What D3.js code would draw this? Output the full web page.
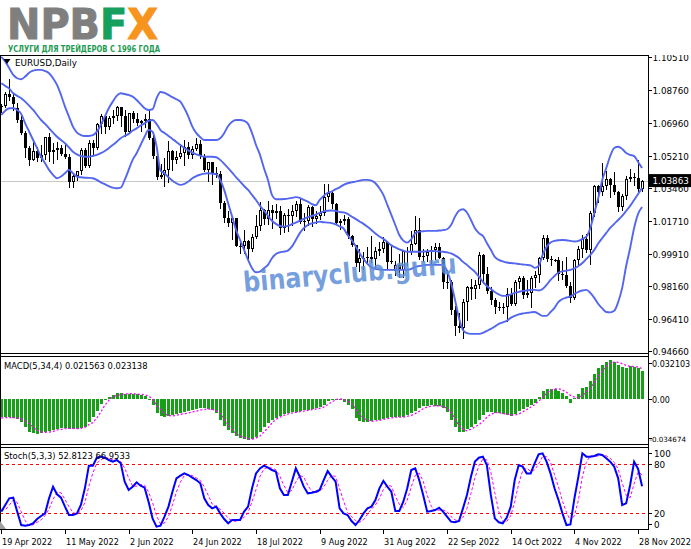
<!DOCTYPE html>
<html><head><meta charset="utf-8">
<script src="https://cdn.jsdelivr.net/npm/d3@7"></script>
<style>body{margin:0;background:#fff;} svg{display:block;} text{font-family:"DejaVu Sans",sans-serif;}</style>
</head><body>
<svg id="c" width="691" height="549"></svg>
<script>
// ---------- DATA ----------
const tickIndex = [0,16,32,48,64,80,96,112,128,144,160];
const tickLabels = ["19 Apr 2022","11 May 2022","2 Jun 2022","24 Jun 2022","18 Jul 2022","9 Aug 2022","31 Aug 2022","22 Sep 2022","14 Oct 2022","4 Nov 2022","28 Nov 2022"];
const priceTicks = [1.10510,1.08760,1.06960,1.05210,1.03460,1.01710,0.99910,0.98160,0.96410,0.94660];
const lastPrice = 1.03863;
const macdRange = [-0.034674, 0.032103];
const stochLevels = [80, 20];
const stochAxis = [100, 80, 20, 0];

const open = [1.0781,1.0787,1.0854,1.0837,1.0780,1.0713,1.0643,1.0561,1.0499,1.0545,1.0508,1.0524,1.0621,1.0540,1.0551,1.0561,1.0530,1.0512,1.0380,1.0410,1.0436,1.0552,1.0464,1.0587,1.0562,1.0692,1.0733,1.0676,1.0725,1.0734,1.0781,1.0733,1.0646,1.0750,1.0719,1.0696,1.0706,1.0716,1.0616,1.0518,1.0408,1.0418,1.0445,1.0544,1.0496,1.0513,1.0534,1.0567,1.0523,1.0554,1.0583,1.0518,1.0442,1.0484,1.0426,1.0423,1.0266,1.0182,1.0160,1.0185,1.0036,1.0036,1.0063,1.0019,1.0080,1.0143,1.0226,1.0180,1.0229,1.0211,1.0221,1.0133,1.0199,1.0197,1.0220,1.0260,1.0163,1.0167,1.0245,1.0180,1.0196,1.0211,1.0298,1.0322,1.0259,1.0160,1.0170,1.0178,1.0085,1.0038,0.9944,0.9967,0.9970,0.9972,0.9964,1.0005,1.0015,1.0054,0.9945,0.9900,0.9929,0.9903,1.0009,1.0000,1.0043,1.0120,0.9972,0.9978,0.9999,1.0014,1.0027,0.9971,0.9839,0.9838,0.9690,0.9605,0.9590,0.9734,0.9815,0.9801,0.9823,0.9985,0.9885,0.9792,0.9741,0.9703,0.9705,0.9705,0.9777,0.9723,0.9838,0.9859,0.9772,0.9782,0.9862,0.9875,0.9967,1.0078,0.9964,0.9960,0.9958,0.9882,0.9876,0.9820,0.9751,0.9959,1.0019,1.0074,1.0014,1.0210,1.0356,1.0324,1.0359,1.0393,1.0363,1.0325,1.0243,1.0301,1.0397,1.0408,1.0398,1.0339];
const high = [1.0800,1.0866,1.0936,1.0851,1.0803,1.0737,1.0654,1.0571,1.0593,1.0565,1.0580,1.0623,1.0642,1.0590,1.0593,1.0577,1.0578,1.0531,1.0418,1.0440,1.0562,1.0564,1.0605,1.0606,1.0697,1.0748,1.0737,1.0736,1.0765,1.0787,1.0785,1.0765,1.0752,1.0764,1.0749,1.0712,1.0748,1.0774,1.0636,1.0520,1.0474,1.0506,1.0601,1.0550,1.0545,1.0583,1.0606,1.0595,1.0573,1.0615,1.0606,1.0528,1.0487,1.0487,1.0462,1.0437,1.0275,1.0221,1.0188,1.0187,1.0049,1.0122,1.0068,1.0096,1.0201,1.0269,1.0235,1.0278,1.0256,1.0258,1.0249,1.0213,1.0235,1.0254,1.0274,1.0294,1.0209,1.0254,1.0250,1.0223,1.0248,1.0368,1.0369,1.0329,1.0268,1.0181,1.0202,1.0191,1.0095,1.0040,1.0016,0.9999,1.0030,1.0090,1.0029,1.0054,1.0080,1.0058,1.0034,0.9955,0.9990,1.0012,1.0030,1.0113,1.0198,1.0187,1.0020,1.0017,1.0036,1.0051,1.0051,0.9976,0.9906,0.9852,0.9709,0.9671,0.9750,0.9816,0.9854,0.9852,0.9999,0.9990,0.9920,0.9811,0.9756,0.9730,0.9726,0.9809,0.9806,0.9849,0.9873,0.9870,0.9848,0.9873,0.9898,0.9975,1.0094,1.0093,0.9978,0.9966,0.9975,0.9952,0.9976,0.9841,0.9964,1.0033,1.0094,1.0096,1.0223,1.0364,1.0364,1.0481,1.0440,1.0400,1.0433,1.0330,1.0314,1.0411,1.0448,1.0428,1.0497,1.0392];
const low = [1.0758,1.0784,1.0823,1.0767,1.0700,1.0637,1.0515,1.0472,1.0496,1.0491,1.0493,1.0505,1.0493,1.0483,1.0503,1.0525,1.0508,1.0354,1.0350,1.0389,1.0423,1.0459,1.0461,1.0532,1.0557,1.0642,1.0642,1.0663,1.0698,1.0714,1.0678,1.0627,1.0641,1.0704,1.0685,1.0653,1.0673,1.0612,1.0506,1.0397,1.0398,1.0358,1.0381,1.0445,1.0480,1.0509,1.0470,1.0508,1.0510,1.0552,1.0508,1.0437,1.0382,1.0366,1.0405,1.0236,1.0162,1.0144,1.0072,1.0032,0.9998,0.9998,0.9952,1.0006,1.0076,1.0121,1.0153,1.0153,1.0130,1.0183,1.0099,1.0109,1.0113,1.0145,1.0196,1.0159,1.0122,1.0146,1.0141,1.0160,1.0177,1.0202,1.0275,1.0237,1.0150,1.0123,1.0152,1.0076,1.0033,0.9927,0.9901,0.9912,0.9946,0.9947,0.9914,0.9985,0.9999,0.9911,0.9943,0.9877,0.9864,0.9864,0.9930,0.9990,1.0043,0.9966,0.9955,0.9955,0.9944,0.9966,0.9969,0.9808,0.9808,0.9668,0.9553,0.9570,0.9536,0.9635,0.9749,0.9753,0.9807,0.9835,0.9780,0.9720,0.9670,0.9686,0.9670,0.9632,0.9713,0.9714,0.9806,0.9755,0.9757,0.9705,0.9810,0.9841,0.9961,0.9951,0.9932,0.9952,0.9851,0.9854,0.9813,0.9730,0.9746,0.9935,0.9977,1.0000,0.9935,1.0194,1.0270,1.0306,1.0340,1.0300,1.0313,1.0223,1.0227,1.0286,1.0383,1.0361,1.0330,1.0330];
const close = [1.0787,1.0854,1.0837,1.0797,1.0713,1.0643,1.0561,1.0499,1.0545,1.0508,1.0524,1.0621,1.0540,1.0551,1.0561,1.0530,1.0512,1.0380,1.0410,1.0436,1.0552,1.0464,1.0587,1.0562,1.0692,1.0733,1.0676,1.0725,1.0734,1.0781,1.0733,1.0646,1.0750,1.0719,1.0696,1.0706,1.0716,1.0616,1.0518,1.0408,1.0418,1.0445,1.0544,1.0496,1.0513,1.0534,1.0567,1.0523,1.0554,1.0583,1.0518,1.0442,1.0484,1.0426,1.0423,1.0266,1.0182,1.0160,1.0185,1.0036,1.0036,1.0063,1.0019,1.0080,1.0143,1.0226,1.0180,1.0229,1.0211,1.0221,1.0133,1.0199,1.0197,1.0220,1.0260,1.0163,1.0167,1.0245,1.0180,1.0196,1.0211,1.0298,1.0322,1.0259,1.0160,1.0170,1.0178,1.0085,1.0038,0.9944,0.9967,0.9970,0.9972,0.9964,1.0005,1.0015,1.0054,0.9945,0.9954,0.9929,0.9903,1.0009,1.0000,1.0043,1.0120,0.9972,0.9978,0.9999,1.0014,1.0027,0.9971,0.9839,0.9838,0.9690,0.9605,0.9590,0.9734,0.9815,0.9801,0.9823,0.9985,0.9885,0.9792,0.9741,0.9703,0.9705,0.9705,0.9777,0.9723,0.9838,0.9859,0.9772,0.9782,0.9862,0.9875,0.9967,1.0078,0.9964,0.9964,0.9958,0.9882,0.9876,0.9820,0.9751,0.9959,1.0019,1.0074,1.0014,1.0210,1.0356,1.0324,1.0359,1.0393,1.0363,1.0325,1.0243,1.0301,1.0397,1.0408,1.0398,1.0339,1.03863];

const bbUpper = [1.1054,1.1027,1.0992,1.0956,1.0938,1.0933,1.0947,1.0968,1.0979,1.0983,1.0983,1.0977,1.0965,1.0938,1.0902,1.0848,1.0785,1.0731,1.0677,1.0645,1.0632,1.0627,1.0627,1.0631,1.0650,1.0686,1.0731,1.0776,1.0812,1.0843,1.0857,1.0853,1.0848,1.0839,1.0821,1.0799,1.0776,1.0767,1.0771,1.0830,1.0864,1.0859,1.0848,1.0836,1.0825,1.0812,1.0776,1.0731,1.0677,1.0642,1.0620,1.0605,1.0605,1.0605,1.0605,1.0615,1.0642,1.0681,1.0704,1.0713,1.0713,1.0708,1.0692,1.0642,1.0578,1.0525,1.0453,1.0390,1.0309,1.0286,1.0286,1.0287,1.0289,1.0293,1.0297,1.0293,1.0282,1.0273,1.0260,1.0253,1.0282,1.0304,1.0320,1.0327,1.0340,1.0350,1.0363,1.0372,1.0377,1.0381,1.0386,1.0390,1.0390,1.0386,1.0372,1.0345,1.0309,1.0255,1.0201,1.0147,1.0093,1.0063,1.0052,1.0070,1.0103,1.0111,1.0113,1.0115,1.0115,1.0115,1.0117,1.0119,1.0124,1.0147,1.0192,1.0224,1.0232,1.0214,1.0174,1.0130,1.0103,1.0088,1.0050,1.0013,0.9975,0.9959,0.9951,0.9945,0.9942,0.9940,0.9937,0.9934,0.9932,0.9929,0.9916,0.9926,0.9986,1.0029,1.0053,1.0061,1.0065,1.0066,1.0065,1.0061,1.0058,1.0061,1.0072,1.0084,1.0131,1.0212,1.0293,1.0390,1.0454,1.0519,1.0562,1.0569,1.0557,1.0535,1.0525,1.0518,1.0487,1.0454];
const bbMiddle = [1.0911,1.0896,1.0882,1.0857,1.0843,1.0830,1.0812,1.0790,1.0767,1.0740,1.0713,1.0692,1.0668,1.0645,1.0623,1.0605,1.0588,1.0566,1.0542,1.0528,1.0519,1.0515,1.0515,1.0519,1.0525,1.0534,1.0546,1.0561,1.0578,1.0596,1.0615,1.0627,1.0638,1.0656,1.0668,1.0683,1.0695,1.0709,1.0713,1.0692,1.0659,1.0643,1.0627,1.0611,1.0595,1.0578,1.0562,1.0549,1.0537,1.0528,1.0521,1.0515,1.0515,1.0515,1.0512,1.0498,1.0476,1.0453,1.0429,1.0404,1.0381,1.0357,1.0336,1.0309,1.0282,1.0250,1.0224,1.0196,1.0170,1.0153,1.0142,1.0138,1.0142,1.0151,1.0160,1.0170,1.0180,1.0189,1.0196,1.0203,1.0212,1.0220,1.0224,1.0225,1.0223,1.0217,1.0215,1.0207,1.0193,1.0180,1.0166,1.0153,1.0137,1.0120,1.0101,1.0085,1.0072,1.0056,1.0037,1.0026,1.0015,1.0009,1.0003,1.0003,1.0003,1.0003,1.0004,1.0005,1.0007,1.0006,1.0004,1.0003,0.9999,0.9994,0.9983,0.9969,0.9948,0.9932,0.9913,0.9894,0.9869,0.9840,0.9818,0.9802,0.9786,0.9773,0.9765,0.9765,0.9773,0.9781,0.9786,0.9792,0.9794,0.9797,0.9797,0.9794,0.9802,0.9824,0.9851,0.9872,0.9891,0.9897,0.9901,0.9905,0.9913,0.9926,0.9942,0.9964,0.9986,1.0013,1.0048,1.0077,1.0104,1.0131,1.0153,1.0174,1.0196,1.0223,1.0250,1.0282,1.0314,1.0347];
const bbLower = [1.0740,1.0763,1.0776,1.0776,1.0767,1.0746,1.0695,1.0650,1.0605,1.0561,1.0515,1.0480,1.0444,1.0417,1.0399,1.0408,1.0426,1.0444,1.0426,1.0408,1.0404,1.0402,1.0401,1.0399,1.0390,1.0377,1.0367,1.0357,1.0348,1.0345,1.0348,1.0390,1.0444,1.0498,1.0534,1.0578,1.0623,1.0659,1.0650,1.0573,1.0440,1.0426,1.0404,1.0386,1.0372,1.0363,1.0368,1.0381,1.0399,1.0411,1.0418,1.0424,1.0426,1.0424,1.0421,1.0390,1.0336,1.0264,1.0192,1.0120,1.0066,1.0013,0.9959,0.9914,0.9892,0.9896,0.9914,0.9932,0.9968,0.9991,1.0000,1.0003,1.0009,1.0030,1.0066,1.0103,1.0130,1.0147,1.0156,1.0160,1.0165,1.0162,1.0160,1.0157,1.0150,1.0139,1.0128,1.0093,1.0066,1.0034,0.9996,0.9964,0.9937,0.9918,0.9910,0.9907,0.9905,0.9905,0.9905,0.9905,0.9905,0.9905,0.9905,0.9910,0.9921,0.9926,0.9929,0.9932,0.9932,0.9932,0.9932,0.9932,0.9899,0.9835,0.9743,0.9646,0.9581,0.9564,0.9560,0.9560,0.9560,0.9565,0.9576,0.9587,0.9600,0.9614,0.9622,0.9630,0.9646,0.9657,0.9665,0.9670,0.9673,0.9676,0.9678,0.9668,0.9657,0.9657,0.9678,0.9700,0.9732,0.9748,0.9756,0.9762,0.9775,0.9786,0.9794,0.9797,0.9781,0.9754,0.9721,0.9697,0.9678,0.9676,0.9684,0.9732,0.9808,0.9926,1.0023,1.0131,1.0207,1.0244];

const macdHist = [-0.0140,-0.0140,-0.0142,-0.0147,-0.0152,-0.0178,-0.0217,-0.0255,-0.0265,-0.0268,-0.0262,-0.0255,-0.0250,-0.0239,-0.0229,-0.0227,-0.0224,-0.0229,-0.0234,-0.0232,-0.0227,-0.0214,-0.0178,-0.0140,-0.0096,-0.0037,-0.0004,0.0014,0.0032,0.0047,0.0045,0.0039,0.0037,0.0034,0.0034,0.0032,0.0021,0.0001,-0.0050,-0.0106,-0.0132,-0.0140,-0.0132,-0.0122,-0.0114,-0.0109,-0.0104,-0.0096,-0.0086,-0.0078,-0.0073,-0.0071,-0.0076,-0.0089,-0.0109,-0.0165,-0.0209,-0.0242,-0.0265,-0.0285,-0.0298,-0.0309,-0.0319,-0.0311,-0.0293,-0.0255,-0.0216,-0.0186,-0.0165,-0.0145,-0.0132,-0.0119,-0.0112,-0.0104,-0.0099,-0.0094,-0.0089,-0.0083,-0.0078,-0.0071,-0.0063,-0.0045,-0.0019,0.0001,0.0001,-0.0007,-0.0025,-0.0045,-0.0076,-0.0147,-0.0168,-0.0175,-0.0178,-0.0173,-0.0165,-0.0160,-0.0152,-0.0145,-0.0142,-0.0140,-0.0140,-0.0137,-0.0127,-0.0112,-0.0091,-0.0071,-0.0058,-0.0053,-0.0050,-0.0053,-0.0055,-0.0068,-0.0101,-0.0165,-0.0216,-0.0255,-0.0255,-0.0229,-0.0219,-0.0191,-0.0160,-0.0122,-0.0101,-0.0101,-0.0106,-0.0112,-0.0119,-0.0127,-0.0132,-0.0119,-0.0096,-0.0076,-0.0063,-0.0050,-0.0030,0.0014,0.0057,0.0078,0.0078,0.0078,0.0062,0.0042,0.0021,-0.0030,0.0006,0.0039,0.0083,0.0091,0.0134,0.0193,0.0236,0.0257,0.0282,0.0295,0.0282,0.0257,0.0241,0.0239,0.0249,0.0241,0.0236,0.021563];
const macdSignal = [-0.0147,-0.0145,-0.0145,-0.0145,-0.0147,-0.0152,-0.0168,-0.0191,-0.0216,-0.0242,-0.0255,-0.0257,-0.0255,-0.0250,-0.0239,-0.0234,-0.0229,-0.0227,-0.0227,-0.0229,-0.0227,-0.0219,-0.0198,-0.0183,-0.0147,-0.0101,-0.0050,-0.0012,0.0014,0.0027,0.0032,0.0037,0.0039,0.0039,0.0037,0.0034,0.0032,0.0021,0.0001,-0.0050,-0.0081,-0.0114,-0.0127,-0.0132,-0.0127,-0.0119,-0.0114,-0.0109,-0.0101,-0.0094,-0.0086,-0.0081,-0.0078,-0.0081,-0.0089,-0.0114,-0.0152,-0.0199,-0.0234,-0.0268,-0.0285,-0.0298,-0.0306,-0.0311,-0.0301,-0.0285,-0.0255,-0.0224,-0.0186,-0.0158,-0.0140,-0.0127,-0.0117,-0.0109,-0.0104,-0.0099,-0.0094,-0.0089,-0.0083,-0.0078,-0.0073,-0.0063,-0.0045,-0.0025,-0.0009,0.0001,-0.0004,-0.0019,-0.0037,-0.0071,-0.0114,-0.0147,-0.0165,-0.0173,-0.0170,-0.0165,-0.0158,-0.0152,-0.0147,-0.0142,-0.0140,-0.0140,-0.0135,-0.0127,-0.0114,-0.0096,-0.0076,-0.0063,-0.0055,-0.0053,-0.0053,-0.0058,-0.0071,-0.0101,-0.0152,-0.0204,-0.0234,-0.0245,-0.0234,-0.0216,-0.0199,-0.0173,-0.0142,-0.0119,-0.0106,-0.0106,-0.0112,-0.0117,-0.0122,-0.0124,-0.0117,-0.0101,-0.0083,-0.0065,-0.0045,-0.0019,0.0009,0.0042,0.0065,0.0075,0.0078,0.0068,0.0050,0.0027,0.0014,0.0006,0.0027,0.0052,0.0083,0.0124,0.0167,0.0213,0.0249,0.0275,0.0282,0.0280,0.0270,0.0257,0.0249,0.0247,0.0244,0.023138];

const stochMain = [22.0,30.1,38.2,39.0,22.0,5.7,4.9,5.7,7.8,13.0,16.7,19.9,38.2,52.4,43.1,39.0,28.1,17.9,17.9,19.9,30.1,50.4,78.0,78.0,87.7,89.0,87.7,84.9,82.9,84.9,80.9,58.5,48.4,52.4,57.7,53.6,51.2,34.1,13.8,3.7,4.9,15.9,28.1,46.3,62.6,65.8,68.6,66.6,63.4,60.5,56.5,38.2,30.1,26.0,28.1,19.9,13.0,7.8,11.8,11.8,11.8,22.0,28.1,50.4,68.6,74.7,78.0,75.6,72.7,70.7,50.4,42.3,42.3,58.5,74.7,64.6,52.4,44.3,45.1,46.3,48.4,60.5,71.5,64.6,58.5,26.0,19.9,17.9,10.6,5.7,11.8,19.9,26.0,28.1,36.2,50.4,59.3,52.4,46.3,22.8,22.8,34.1,50.4,72.7,74.7,60.5,42.3,22.0,22.8,24.0,26.8,22.0,15.9,9.8,9.0,10.6,26.0,42.3,64.6,82.9,87.7,89.0,78.8,42.3,13.8,9.0,7.8,14.7,28.1,60.5,78.8,76.8,68.6,68.6,80.9,91.8,93.0,82.9,68.6,50.4,36.2,19.9,5.7,6.5,38.2,64.6,93.0,89.0,89.0,89.8,91.8,91.0,86.9,82.9,76.8,62.6,30.1,32.1,54.5,82.9,74.0,52.8123];
const stochSignal = [25,24,30,36,33,22,11,5,6,9,12,17,25,37,45,45,37,28,21,19,23,33,53,69,81,85,88,87,85,84,83,75,63,53,53,55,54,46,33,17,7,8,16,30,46,58,66,67,66,63,60,52,42,31,28,25,20,14,11,10,12,15,21,34,49,65,74,76,75,73,65,54,45,48,58,66,64,54,47,45,47,52,60,66,65,50,35,21,16,11,9,12,19,25,30,38,49,54,53,41,31,27,36,52,66,69,59,42,29,23,24,24,22,16,12,10,15,26,44,63,78,86,85,70,45,22,10,10,17,34,56,72,75,71,73,80,89,89,82,67,52,35,21,11,17,36,65,82,90,89,90,91,90,87,82,74,57,42,39,56,70,66.9533];

// ---------- LAYOUT ----------
const svg = d3.select("#c");
const N = close.length;
const axisX = 648;
const mainTop = 55, mainBot = 353;
const macdTop = 357, macdBot = 444;
const stTop = 447.6, stBot = 529.7;

const x = d3.scaleLinear().domain([0, N-1]).range([1.3, 1.3 + 3.98*(N-1)]);
const yP = d3.scaleLinear().domain([0.94660, 1.10510]).range([351.3, 57.3]);
const yM = d3.scaleLinear().domain(macdRange).range([macdBot, macdTop]);
const yS = d3.scaleLinear().domain([0, 100]).range([stBot, stTop]);

const defs = svg.append("defs");
defs.append("clipPath").attr("id","cm").append("rect").attr("x",0).attr("y",mainTop).attr("width",axisX).attr("height",mainBot-mainTop);
defs.append("clipPath").attr("id","cs").append("rect").attr("x",0).attr("y",446).attr("width",axisX).attr("height",84);

// current price line
svg.append("line").attr("x1",0).attr("x2",axisX).attr("y1",Math.round(yP(lastPrice))+0.5).attr("y2",Math.round(yP(lastPrice))+0.5)
  .attr("stroke","#c8c8c8").attr("stroke-width",1);

// candles
const gC = svg.append("g").attr("clip-path","url(#cm)").attr("shape-rendering","crispEdges");
d3.range(N).forEach(i => {
  const c = Math.round(x(i));
  const o = open[i], cl = close[i];
  gC.append("line").attr("x1",c+0.5).attr("x2",c+0.5).attr("y1",Math.round(yP(high[i]))).attr("y2",Math.round(yP(low[i]))+1)
    .attr("stroke","#000").attr("stroke-width",1);
  const yt = Math.round(yP(Math.max(o,cl))), yb = Math.round(yP(Math.min(o,cl)));
  if (cl >= o) {
    if (yb - yt < 2) {
      gC.append("rect").attr("x",c-1).attr("y",yt).attr("width",3).attr("height",Math.max(1,yb-yt)).attr("fill","#000");
    } else {
      gC.append("rect").attr("x",c-0.5).attr("y",yt+0.5).attr("width",2).attr("height",yb-yt-1)
        .attr("fill","#fff").attr("stroke","#000").attr("stroke-width",1);
    }
  } else {
    gC.append("rect").attr("x",c-1).attr("y",yt).attr("width",3).attr("height",Math.max(1,yb-yt)).attr("fill","#000");
  }
});

// bollinger bands
const gB = svg.append("g").attr("clip-path","url(#cm)");
[bbUpper, bbMiddle, bbLower].forEach(arr => {
  gB.append("path").datum(arr)
    .attr("d", d3.line().x((d,i)=>x(i)).y(d=>yP(d)).curve(d3.curveMonotoneX))
    .attr("fill","none").attr("stroke","#5366f0").attr("stroke-width",1.9);
});

// watermark
svg.append("text").attr("transform","translate(244,292) rotate(-5)")
  .attr("font-family","'Open Sans','DejaVu Sans',sans-serif").attr("font-weight","bold").attr("font-size",28)
  .attr("textLength",214).attr("lengthAdjust","spacingAndGlyphs")
  .attr("fill","#5d8ed8").attr("fill-opacity",0.85).text("binaryclub.guru");

// MACD histogram
const gM = svg.append("g").attr("shape-rendering","crispEdges");
d3.range(N).forEach(i => {
  const c = Math.round(x(i));
  const y0 = Math.round(yM(0)), y1 = Math.round(yM(macdHist[i]));
  gM.append("rect").attr("x",c-1).attr("width",3).attr("y",Math.min(y0,y1)).attr("height",Math.max(1,Math.abs(y1-y0)))
    .attr("fill","#17a017");
});
svg.append("path").datum(macdSignal)
  .attr("d", d3.line().x((d,i)=>x(i)).y(d=>yM(d)))
  .attr("fill","none").attr("stroke","#ff00ff").attr("stroke-width",1.3).attr("stroke-dasharray","2,2");

// Stochastic
const gS = svg.append("g").attr("clip-path","url(#cs)");
stochLevels.forEach(l => {
  gS.append("line").attr("x1",0).attr("x2",axisX).attr("y1",Math.round(yS(l))+0.5).attr("y2",Math.round(yS(l))+0.5)
    .attr("stroke","#ff0000").attr("stroke-width",1).attr("stroke-dasharray","3,3");
});
gS.append("path").datum(stochSignal)
  .attr("d", d3.line().x((d,i)=>x(i)).y(d=>yS(d)))
  .attr("fill","none").attr("stroke","#ff00ff").attr("stroke-width",1).attr("stroke-dasharray","3,2");
gS.append("path").datum(stochMain)
  .attr("d", d3.line().x((d,i)=>x(i)).y(d=>yS(d)))
  .attr("fill","none").attr("stroke","#0000ff").attr("stroke-width",2);

// frames
const fr = svg.append("g").attr("stroke","#000").attr("stroke-width",1).attr("shape-rendering","crispEdges");
[[0,mainTop+0.5,axisX,mainTop+0.5],[0,353.5,axisX,353.5],[0,356.5,axisX,356.5],[0,444.5,axisX,444.5],[0,447.5,axisX,447.5],[0,529.5,axisX,529.5],
 [0.5,mainTop,0.5,530],[axisX+0.5,mainTop,axisX+0.5,530]].forEach(l => {
  fr.append("line").attr("x1",l[0]).attr("y1",l[1]).attr("x2",l[2]).attr("y2",l[3]);
});
svg.append("path").attr("d","M0,521 L0,529 L6,529 Z").attr("fill","#a0a0a0");

// price axis
const gA = svg.append("g");
priceTicks.forEach(p => {
  const yy = Math.round(yP(p)) + 0.5;
  gA.append("line").attr("x1",axisX).attr("x2",axisX+4).attr("y1",yy).attr("y2",yy).attr("stroke","#000").attr("shape-rendering","crispEdges");
  gA.append("text").attr("x",axisX+4.5).attr("y",yy+3.3).attr("font-size",8.8).attr("fill","#000").text(p.toFixed(5));
});
const yl = yP(lastPrice);
gA.append("rect").attr("x",axisX+1).attr("y",yl-6.5).attr("width",42).attr("height",13).attr("fill","#000");
gA.append("text").attr("x",axisX+4.5).attr("y",yl+3.3).attr("font-size",8.8).attr("fill","#fff").text(lastPrice.toFixed(5));

// MACD axis
const macdAx = [[macdRange[1], 5.5, macdRange[1].toFixed(6), 8, axisX+4],[0, 0, "0.00", 8, axisX+4],[macdRange[0], -6.5, macdRange[0].toFixed(6), 7.1, axisX+1.5]];
macdAx.forEach(a => {
  const yy = Math.round(yM(a[0]) + a[1]) + 0.5;
  gA.append("line").attr("x1",axisX).attr("x2",axisX+4).attr("y1",yy).attr("y2",yy).attr("stroke","#000").attr("shape-rendering","crispEdges");
  gA.append("text").attr("x",a[4]).attr("y",yy+3.3).attr("font-size",a[3]).attr("fill","#000").text(a[2]);
});
// Stoch axis
const stOff = {100:5, 80:0, 20:0, 0:-5.5};
stochAxis.forEach(v => {
  const yy = Math.round(yS(v) + stOff[v]) + 0.5;
  gA.append("line").attr("x1",axisX).attr("x2",axisX+4).attr("y1",yy).attr("y2",yy).attr("stroke","#000").attr("shape-rendering","crispEdges");
  gA.append("text").attr("x",axisX+6).attr("y",yy+3.3).attr("font-size",8.8).attr("fill","#000").text(String(v));
});

// time axis
tickIndex.forEach((ti,k) => {
  const c = Math.round(x(ti)) + 0.5;
  svg.append("line").attr("x1",c).attr("x2",c).attr("y1",530).attr("y2",534).attr("stroke","#000").attr("shape-rendering","crispEdges");
  svg.append("text").attr("x",c+0.5).attr("y",545).attr("font-size",8.1).attr("fill","#000").text(tickLabels[k]);
});

// labels
svg.append("path").attr("d","M3.5,59 L10.5,59 L7,64 Z").attr("fill","#000");
svg.append("text").attr("x",15).attr("y",65.5).attr("font-size",8.8).attr("fill","#000").text("EURUSD,Daily");
svg.append("text").attr("x",4).attr("y",369).attr("font-size",8.4).attr("fill","#000")
  .text(`MACD(5,34,4) ${macdHist[N-1].toFixed(6)} ${macdSignal[N-1].toFixed(6)}`);
svg.append("text").attr("x",4).attr("y",459).attr("font-size",8.4).attr("fill","#000")
  .text(`Stoch(5,3,3) ${stochMain[N-1].toFixed(4)} ${stochSignal[N-1].toFixed(4)}`);

// logo
svg.append("rect").attr("x",0).attr("y",0).attr("width",691).attr("height",mainTop).attr("fill","#fff");
svg.append("line").attr("x1",0).attr("x2",axisX).attr("y1",mainTop+0.5).attr("y2",mainTop+0.5).attr("stroke","#000").attr("shape-rendering","crispEdges");
const logo = svg.append("text").attr("x",7).attr("y",39).attr("font-weight","bold").attr("font-size",43)
  .attr("textLength",151).attr("lengthAdjust","spacingAndGlyphs").attr("stroke-width",1);
logo.append("tspan").attr("fill","#7f7f7f").attr("stroke","#7f7f7f").text("NPB");
logo.append("tspan").attr("fill","#17a05d").attr("stroke","#17a05d").text("F");
logo.append("tspan").attr("fill","#f7941d").attr("stroke","#f7941d").text("X");
svg.append("text").attr("x",8).attr("y",51.5).attr("font-family","'DejaVu Sans Condensed','DejaVu Sans',sans-serif")
  .attr("font-weight","bold").attr("font-size",9.5).attr("textLength",152).attr("lengthAdjust","spacingAndGlyphs")
  .attr("fill","#1d9b52").text("УСЛУГИ ДЛЯ ТРЕЙДЕРОВ С 1996 ГОДА");
</script>
</body></html>
